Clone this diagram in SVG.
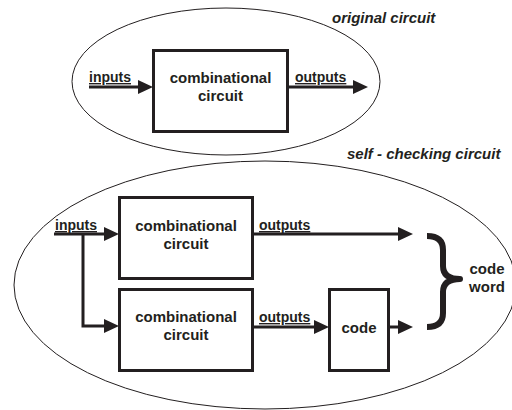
<svg xmlns="http://www.w3.org/2000/svg" width="512" height="410" viewBox="0 0 512 410">
  <style>
    .bg { fill: #ffffff; }
    .outline { fill: none; stroke: #231f20; stroke-width: 1; }
    .box { fill: #ffffff; stroke: #231f20; stroke-width: 3; }
    .wire { fill: none; stroke: #231f20; stroke-width: 3; }
    .brace { fill: none; stroke: #231f20; stroke-width: 6; stroke-linecap: butt; stroke-linejoin: round; }
    text { font-family: "Liberation Sans", Arial, sans-serif; font-weight: bold; fill: #231f20; }
    .lbl { font-size: 15px; text-anchor: middle; }
    .sig { font-size: 14px; text-decoration: underline; }
    .title { font-size: 15px; font-style: italic; }
  </style>
  <defs>
    <marker id="arrow" markerUnits="userSpaceOnUse" markerWidth="15" markerHeight="14" refX="1" refY="7" orient="auto" overflow="visible">
      <path d="M0,0 L15,7 L0,14 Z" fill="#231f20"/>
    </marker>
  </defs>

  <rect class="bg" x="0" y="0" width="512" height="410"/>

  <!-- original circuit -->
  <g id="original-circuit">
    <ellipse class="outline" cx="226" cy="81.5" rx="154" ry="73.5"/>
    <text class="title" x="332" y="23">original circuit</text>
  </g>
  <g id="orig-comb">
    <rect class="box" x="153.5" y="50.5" width="134" height="81"/>
    <text class="lbl" x="220.5" y="83">combinational</text>
    <text class="lbl" x="220.5" y="100.5">circuit</text>
  </g>

  <!-- self-checking circuit -->
  <g id="self-checking-circuit">
    <ellipse class="outline" cx="265" cy="285" rx="251" ry="124"/>
    <text class="title" x="347" y="159">self - checking circuit</text>
  </g>
  <g id="comb-1">
    <rect class="box" x="119.5" y="197.5" width="133" height="81"/>
    <text class="lbl" x="186" y="231">combinational</text>
    <text class="lbl" x="186" y="248.5">circuit</text>
  </g>
  <g id="comb-2">
    <rect class="box" x="119.5" y="289.5" width="133" height="81"/>
    <text class="lbl" x="186" y="322">combinational</text>
    <text class="lbl" x="186" y="340">circuit</text>
  </g>
  <g id="code-block">
    <rect class="box" x="329.5" y="289.5" width="59" height="81"/>
    <text class="lbl" x="359" y="333">code</text>
  </g>
  <g id="code-word">
    <path class="brace" d="M427,236 Q443,236 443,250 V266 Q443,279 460,279 Q443,279 443,292 V313 Q443,327 427,327"/>
    <text class="lbl" x="487" y="274">code</text>
    <text class="lbl" x="487" y="292">word</text>
  </g>

  <!-- connectors -->
  <g id="connectors">
    <path class="wire" d="M89,87 H139" marker-end="url(#arrow)"/>
    <path class="wire" d="M288,87 H354" marker-end="url(#arrow)"/>
    <path class="wire" d="M54,234 H105" marker-end="url(#arrow)"/>
    <path class="wire" d="M83,234 V326 H105" marker-end="url(#arrow)"/>
    <path class="wire" d="M253,234 H399" marker-end="url(#arrow)"/>
    <path class="wire" d="M253,327 H315" marker-end="url(#arrow)"/>
    <path class="wire" d="M389,327 H399" marker-end="url(#arrow)"/>
  </g>

  <!-- signal labels -->
  <g id="signal-labels">
    <text class="sig" x="89" y="82">inputs</text>
    <text class="sig" x="295" y="82">outputs</text>
    <text class="sig" x="55" y="230">inputs</text>
    <text class="sig" x="259" y="230">outputs</text>
    <text class="sig" x="259" y="322">outputs</text>
  </g>
</svg>
